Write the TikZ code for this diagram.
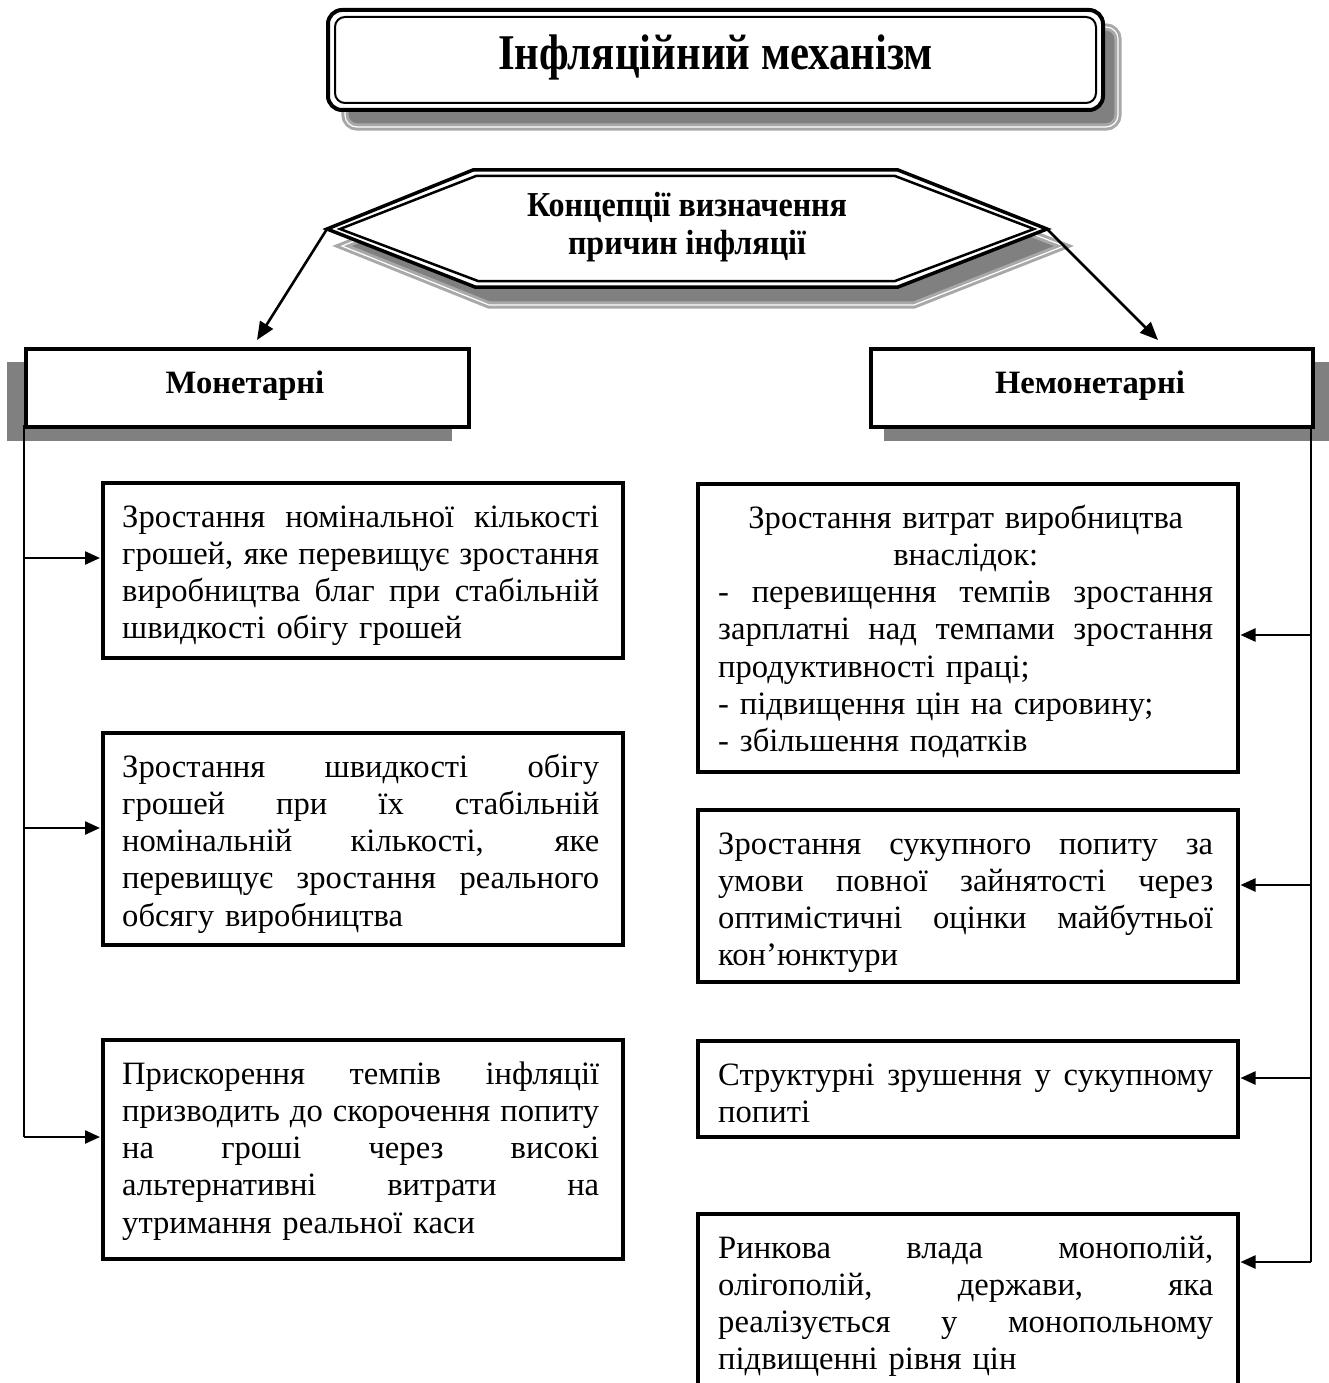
\documentclass[tikz,border=0pt]{standalone}
\usepackage{fontspec}
\setmainfont{Liberation Serif}
\usetikzlibrary{arrows.meta}
\definecolor{shd}{HTML}{808080}
\definecolor{shdl}{HTML}{A8A8A8}
\newcommand{\jl}[1]{\hbox to \hsize{\spaceskip=0.25em plus 1fil\relax #1}\par}
\newcommand{\cl}[1]{\hbox to \hsize{\hfil #1\hfil}\par}
\newcommand{\bodyfnt}{\fontsize{32.6}{37.3}\selectfont}
\begin{document}
\begin{tikzpicture}[x=1pt,y=-1pt,
  boxstyle/.style={draw=black, fill=white, line width=3.5pt, inner sep=0pt, anchor=north west},
  txtL/.style={anchor=base west, inner sep=0pt, text width=477pt, align=left, font=\bodyfnt},
  txtR/.style={anchor=base west, inner sep=0pt, text width=495pt, align=left, font=\bodyfnt},
  head/.style={inner sep=0pt, align=center, font=\fontsize{32.6}{37.3}\selectfont\bfseries},
  conn/.style={draw=black, line width=2pt},
  arr/.style={draw=black, line width=2.4pt, -{Triangle[length=15pt,width=13pt]}},
  harr/.style={draw=black, line width=2.6pt, -{Triangle[length=18pt,width=15pt]}},
  shadowfill/.style={fill=shd, draw=shdl, line width=3pt, double=white, double distance=1.2pt}
]
\useasboundingbox (0,0) rectangle (1329,1383);
\clip (0,0) rectangle (1329,1383);
\fill[white] (0,0) rectangle (1329,1383);

% ---------- title ----------
\path[shadowfill, rounded corners=12pt] (345,27) rectangle (1118,127);
\path[draw=black, fill=white, line width=4pt, rounded corners=14pt] (328,10) rectangle (1103,110);
\path[draw=black, line width=2pt, rounded corners=10pt] (335,17) rectangle (1096,103);
\node[inner sep=0pt] (title) at (715.5,57) {\resizebox{435pt}{\height}{\fontsize{50}{54}\selectfont\bfseries Інфляційний механізм}};

% ---------- hexagon ----------
\path[shadowfill] (342,246) -- (489,305) -- (914,305) -- (1064,246) -- (913,188) -- (488,188) -- cycle;
\path[draw=black, fill=white, line width=3.5pt] (327,229) -- (473,170) -- (898,170) -- (1047,229) -- (898,287) -- (475,287) -- cycle;
\path[draw=black, line width=2.5pt] (340,229) -- (476,176) -- (895,176) -- (1034,229) -- (895,281) -- (478,281) -- cycle;
\coordinate (hexL) at (327,229);
\coordinate (hexR) at (1047,229);
\node[head] (hex) at (687,227) {\resizebox{320pt}{\height}{\fontsize{35}{37.3}\selectfont\bfseries Концепції визначення}\\\resizebox{238pt}{\height}{\fontsize{35}{37.3}\selectfont\bfseries причин інфляції}};

% ---------- category boxes ----------
\fill[shd] (7,362) rectangle (452,441);
\fill[shd] (884,362) rectangle (1329,441);
\node[boxstyle, minimum width=443pt, minimum height=78pt] (mon) at (24,347) {};
\node[boxstyle, minimum width=442pt, minimum height=78pt] (nonmon) at (869,347) {};
\node[head] (montxt) at (245,386) {Монетарні};
\node[head] (nonmontxt) at (1090,386) {Немонетарні};

\coordinate (monT) at (257,340);
\coordinate (nonmonT) at (1158,340);
\draw[harr] (hexL) -- (monT);
\draw[harr] (hexR) -- (nonmonT);

% ---------- left boxes ----------
\node[boxstyle, minimum width=520pt, minimum height=175pt] (L1) at (101,481) {};
\node[boxstyle, minimum width=520pt, minimum height=212pt] (L2) at (101,731) {};
\node[boxstyle, minimum width=520pt, minimum height=219pt] (L3) at (101,1038) {};

\node[txtL] (L1t) at (122,527) {%
\jl{Зростання номінальної кількості}
\jl{грошей, яке перевищує зростання}
\jl{виробництва благ при стабільній}
швидкості обігу грошей};
\node[txtL] (L2t) at (122,777) {%
\jl{Зростання швидкості обігу}
\jl{грошей при їх стабільній}
\jl{номінальній кількості, яке}
\jl{перевищує зростання реального}
обсягу виробництва};
\node[txtL] (L3t) at (122,1084) {%
\jl{Прискорення темпів інфляції}
\jl{призводить до скорочення попиту}
\jl{на гроші через високі}
\jl{альтернативні витрати на}
утримання реальної каси};

% ---------- right boxes ----------
\node[boxstyle, minimum width=540pt, minimum height=288pt] (R1) at (696,482) {};
\node[boxstyle, minimum width=540pt, minimum height=172pt] (R2) at (696,808) {};
\node[boxstyle, minimum width=540pt, minimum height=96pt] (R3) at (696,1039) {};
\node[boxstyle, minimum width=540pt, minimum height=200pt] (R4) at (696,1212) {};

\node[txtR] (R1t) at (718,528) {%
\cl{Зростання витрат виробництва}
\cl{внаслідок:}
\jl{- перевищення темпів зростання}
\jl{зарплатні над темпами зростання}
продуктивності праці;\par
- підвищення цін на сировину;\par
- збільшення податків};
\node[txtR] (R2t) at (718,854) {%
\jl{Зростання сукупного попиту за}
\jl{умови повної зайнятості через}
\jl{оптимістичні оцінки майбутньої}
кон’юнктури};
\node[txtR] (R3t) at (718,1085) {%
\jl{Структурні зрушення у сукупному}
попиті};
\node[txtR] (R4t) at (718,1258) {%
\jl{Ринкова влада монополій,}
\jl{олігополій, держави, яка}
\jl{реалізується у монопольному}
підвищенні рівня цін};

% ---------- left connectors ----------
\coordinate (lTop) at (24,425);
\coordinate (lj1) at (24,558);
\coordinate (lj2) at (24,828);
\coordinate (lj3) at (24,1137);
\draw[conn] (lTop) -- (lj3);
\draw[arr] (lj1) -- ([xshift=-1pt]lj1 -| L1.west);
\draw[arr] (lj2) -- ([xshift=-1pt]lj2 -| L2.west);
\draw[arr] (lj3) -- ([xshift=-1pt]lj3 -| L3.west);

% ---------- right connectors ----------
\coordinate (rTop) at (1311,425);
\coordinate (rj1) at (1311,635);
\coordinate (rj2) at (1311,885);
\coordinate (rj3) at (1311,1078);
\coordinate (rj4) at (1311,1262);
\draw[conn] (rTop) -- (rj4);
\draw[arr] (rj1) -- ([xshift=1pt]rj1 -| R1.east);
\draw[arr] (rj2) -- ([xshift=1pt]rj2 -| R2.east);
\draw[arr] (rj3) -- ([xshift=1pt]rj3 -| R3.east);
\draw[arr] (rj4) -- ([xshift=1pt]rj4 -| R4.east);
\end{tikzpicture}
\end{document}
